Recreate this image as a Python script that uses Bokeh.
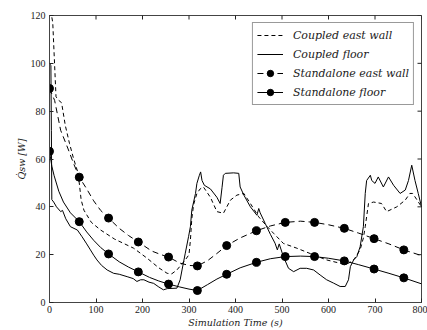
import math
from bokeh.plotting import figure
from bokeh.models import Range1d, Legend, LegendItem, FixedTicker
from bokeh.embed import file_html
from bokeh.resources import INLINE

# ---------------- data ----------------
# Coupled east wall (short dashes)
t_cew = [0, 7, 14, 20, 26, 34, 43, 52, 60, 64, 68, 74, 90, 110, 140, 181, 210, 235, 253, 263,
         274, 292, 300, 303, 306, 310, 317, 324, 331, 346, 360, 374, 389, 403, 418, 432, 450,
         467, 482, 503, 532, 568, 596, 625, 643, 655, 668, 675, 679, 686, 697, 714, 725, 747,
         765, 775, 781, 790, 800]
q_cew = [125, 117, 86, 84.5, 83.5, 74, 66.5, 60, 55, 50, 43, 38.6, 33.5, 30.3, 26.5, 22.7, 18.5,
         14.5, 12.2, 12, 13.6, 17.8, 20, 26, 35, 41, 45.6, 47.5, 48.3, 44, 38, 37.3, 42.8, 44.9,
         45.6, 41.4, 35.8, 32, 28.9, 24.7, 22.7, 19.9, 17.8, 16.4, 16.4, 18, 22, 27, 31.7, 41.4,
         42, 41.4, 38, 40, 42.8, 45.6, 45.6, 43, 40]

# Coupled floor (solid)
t_cf = [0, 3, 4, 5, 9, 15, 24, 28, 35, 45, 60, 70, 80, 88, 95, 102, 112, 124, 138, 150, 167,
        180, 188, 196, 203, 214, 224, 235, 245, 253, 274, 281, 285, 292, 299, 303, 306, 314,
        317, 322, 325, 328, 333, 346, 360, 367, 371, 374, 378, 396, 407, 410, 418, 432, 446,
        450, 453, 464, 475, 485, 490, 494, 503, 514, 525, 539, 553, 568, 582, 596, 611, 625,
        636, 643, 647, 654, 661, 668, 675, 679, 682, 690, 693, 700, 707, 718, 729, 740, 754,
        765, 772, 779, 786, 793, 800]
q_cf = [100, 99, 72, 43, 42, 40, 38, 38.5, 35, 31.7, 30.3, 27.5, 24.5, 22, 19.8, 17.8, 15.5,
        13.6, 12.2, 11.8, 10.8, 10, 8.8, 9.5, 9.5, 8.5, 8, 6.5, 5.3, 5.8, 6, 9.5, 13.6, 20.6,
        27.5, 31.7, 38.6, 45.6, 49.8, 53, 54.6, 51, 49, 47.5, 44, 41.4, 48, 53.2, 54, 54.2, 54,
        48.3, 44.9, 40, 36.5, 39.3, 37.5, 33, 28.5, 24.8, 22, 24.5, 19.2, 14.3, 12.9, 14.3,
        14.3, 13.6, 11.5, 9.5, 8.1, 6.7, 6.7, 9.5, 15, 17.8, 19.2, 23.3, 31.7, 45.6, 51, 53.2,
        51, 49.8, 52.5, 48.3, 52.5, 49, 45.6, 47, 51, 57.4, 51, 45.6, 40]

# Standalone east wall (long dashes, line)
t_sew = [0, 11, 24, 40, 52, 64, 80, 95, 110, 127, 150, 170, 191, 220, 240, 256, 280, 300, 318,
         340, 360, 381, 410, 445, 475, 507, 540, 570, 600, 634, 665, 698, 730, 762, 800]
q_sew = [89.5, 84.5, 72, 64.2, 58, 52.4, 47.5, 42.5, 38.5, 35.3, 31, 28, 25.3, 21.5, 20, 19,
         16.5, 15.5, 15.3, 17.5, 20.5, 23.8, 27, 30, 32, 33.5, 34, 33.5, 32.5, 31, 29, 26.7,
         24.5, 22, 19.6]

# Standalone floor (solid, line)
t_sf = [0, 5, 10, 20, 30, 45, 64, 80, 95, 110, 127, 150, 170, 191, 215, 235, 256, 280, 300,
        318, 340, 360, 381, 410, 445, 475, 507, 540, 570, 600, 634, 665, 698, 730, 762, 800]
q_sf = [63.2, 57, 53, 46.5, 42, 37.5, 33.8, 29.5, 26, 23, 20.3, 17, 14.8, 12.8, 10.5, 9, 7.7,
        6.5, 5.6, 5.0, 7.5, 9.8, 11.8, 14.5, 16.8, 18.3, 19.2, 19.4, 19.2, 18.5, 17.4, 15.8,
        14, 12.2, 10.3, 7.8]

# Standalone markers
mk_t = [0, 64, 127, 191, 256, 318, 381, 445, 507, 570, 634, 698, 762]
mk_sew = [89.5, 52.4, 35.3, 25.3, 19.0, 15.3, 23.8, 30.0, 33.5, 33.5, 31.0, 26.7, 22.0]
mk_sf = [63.2, 33.8, 20.3, 12.8, 7.7, 5.0, 11.8, 16.8, 19.2, 19.2, 17.4, 14.0, 10.3]

x_ticks = [0, 100, 200, 300, 400, 500, 600, 700, 800]
y_ticks = [0, 20, 40, 60, 80, 100, 120]

labels = ["Coupled east wall", "Coupled floor", "Standalone east wall", "Standalone floor"]

# ---------------- figure ----------------
p = figure(width=427, height=330, output_backend="svg", toolbar_location=None,
           x_range=Range1d(x_ticks[0], x_ticks[-1]), y_range=Range1d(y_ticks[0], y_ticks[-1]),
           min_border_left=49, min_border_right=6, min_border_top=15, min_border_bottom=27)
p.grid.visible = False
p.outline_line_color = "#444444"
p.outline_line_width = 1
p.background_fill_color = "white"
p.border_fill_color = "white"

TICK_FONT = "'Liberation Serif'"
LAB_FONT = "'DejaVu Serif'"

for ax in (p.xaxis[0], p.yaxis[0]):
    ax.axis_line_color = "#444444"
    ax.major_tick_in = 4
    ax.major_tick_out = 0
    ax.major_tick_line_color = "#222222"
    ax.minor_tick_line_color = None
    ax.major_label_text_font = TICK_FONT
    ax.major_label_text_font_size = "10px"
    ax.major_label_text_color = "#222222"
    ax.axis_label_text_font = LAB_FONT
    ax.axis_label_text_font_style = "italic"
    ax.axis_label_text_font_size = "9.5px"
    ax.axis_label_text_color = "#222222"
    ax.axis_label_standoff = 1

p.xaxis.ticker = FixedTicker(ticks=x_ticks)
p.yaxis.ticker = FixedTicker(ticks=y_ticks)
p.xaxis.major_label_standoff = 3
p.yaxis.major_label_standoff = 4
p.xaxis.axis_label = "Simulation Time (s)"
p.yaxis.axis_label = "Q\u0307sw [W]"

# inward ticks on the top and right frame edges (clipped to the frame)
p.scatter(x_ticks, [y_ticks[-1]] * len(x_ticks), marker="dash", size=8, angle=math.pi / 2,
          line_color="#222222", line_width=1)
p.scatter([x_ticks[-1]] * len(y_ticks), y_ticks, marker="dash", size=8,
          line_color="#222222", line_width=1)

# ---------------- series ----------------
r_cew = p.line(t_cew, q_cew, line_color="black", line_width=1, line_dash="4 3")
r_cf = p.line(t_cf, q_cf, line_color="black", line_width=1)
r_sew = p.line(t_sew, q_sew, line_color="black", line_width=1, line_dash="6 4")
m_sew = p.scatter(mk_t, mk_sew, size=8, marker="circle", fill_color="black", line_color="black")
r_sf = p.line(t_sf, q_sf, line_color="black", line_width=1)
m_sf = p.scatter(mk_t, mk_sf, size=8, marker="circle", fill_color="black", line_color="black")

legend = Legend(items=[
    LegendItem(label=labels[0], renderers=[r_cew]),
    LegendItem(label=labels[1], renderers=[r_cf]),
    LegendItem(label=labels[2], renderers=[r_sew, m_sew]),
    LegendItem(label=labels[3], renderers=[r_sf, m_sf]),
], location="top_right")
legend.label_text_font = LAB_FONT
legend.label_text_font_style = "italic"
legend.label_text_font_size = "11px"
legend.label_text_color = "#222222"
legend.glyph_width = 26
legend.glyph_height = 16
legend.label_height = 16
legend.spacing = 3
legend.padding = 4
legend.label_standoff = 10
legend.margin = 7
legend.border_line_color = "#333333"
legend.border_line_width = 1
legend.background_fill_alpha = 1
p.add_layout(legend, "center")

open("out.html", "w").write(file_html(p, INLINE))
